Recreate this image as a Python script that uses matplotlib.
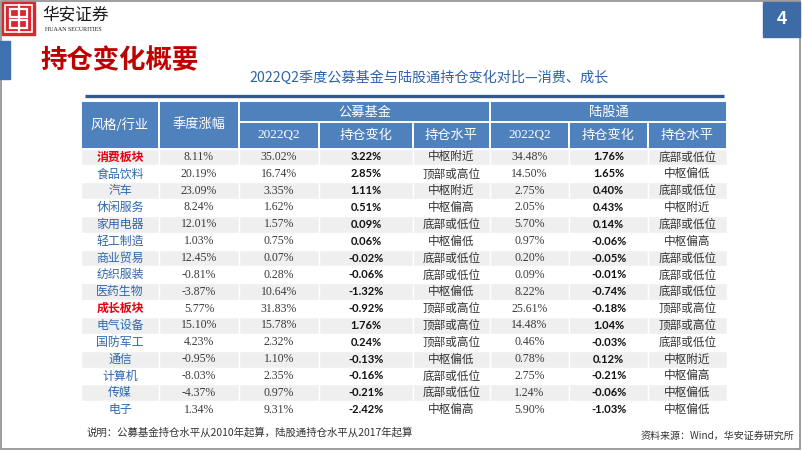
# -*- coding: utf-8 -*-
"""
Holdings change overview slide, public funds versus northbound connect, drawn as a table
"""

import matplotlib

matplotlib.use("Agg")  # Render without a display
import matplotlib.pyplot as plt
from matplotlib.patches import Rectangle

CJK = ["Noto Sans CJK SC", "DejaVu Sans"]
SERIF = ["Liberation Serif", "DejaVu Serif"]
BOLD_NUM = ["Lato", "DejaVu Sans"]

# Table data
industries = ["消费板块", "食品饮料", "汽车", "休闲服务", "家用电器", "轻工制造", "商业贸易", "纺织服装",
              "医药生物", "成长板块", "电气设备", "国防军工", "通信", "计算机", "传媒", "电子"]
sector_rows = ["消费板块", "成长板块"]
quarter_return = [8.11, 20.19, 23.09, 8.24, 12.01, 1.03, 12.45, -0.81, -3.87, 5.77, 15.10, 4.23, -0.95, -8.03, -4.37, 1.34]
fund_weight = [35.02, 16.74, 3.35, 1.62, 1.57, 0.75, 0.07, 0.28, 10.64, 31.83, 15.78, 2.32, 1.10, 2.35, 0.97, 9.31]
fund_change = [3.22, 2.85, 1.11, 0.51, 0.09, 0.06, -0.02, -0.06, -1.32, -0.92, 1.76, 0.24, -0.13, -0.16, -0.21, -2.42]
fund_level = ["中枢附近", "顶部或高位", "中枢附近", "中枢偏高", "底部或低位", "中枢偏低", "底部或低位", "底部或低位",
              "中枢偏低", "顶部或高位", "顶部或高位", "顶部或高位", "中枢偏低", "底部或低位", "底部或低位", "中枢偏高"]
hk_weight = [34.48, 14.50, 2.75, 2.05, 5.70, 0.97, 0.20, 0.09, 8.22, 25.61, 14.48, 0.46, 0.78, 2.75, 1.24, 5.90]
hk_change = [1.76, 1.65, 0.40, 0.43, 0.14, -0.06, -0.05, -0.01, -0.74, -0.18, 1.04, -0.03, 0.12, -0.21, -0.06, -1.03]
hk_level = ["底部或低位", "中枢偏低", "底部或低位", "中枢附近", "底部或低位", "中枢偏高", "底部或低位", "底部或低位",
            "底部或低位", "顶部或高位", "顶部或高位", "底部或低位", "中枢附近", "中枢偏高", "中枢偏低", "中枢偏低"]

top_headers = ["风格/行业", "季度涨幅"]
group_headers = ["公募基金", "陆股通"]
sub_headers = ["2022Q2", "持仓变化", "持仓水平"]

title = "持仓变化概要"
subtitle = "2022Q2季度公募基金与陆股通持仓变化对比—消费、成长"
note = "说明：公募基金持仓水平从2010年起算，陆股通持仓水平从2017年起算"
source = "资料来源：Wind，华安证券研究所"
page_no = "4"

# Layout in slide pixels
COL_EDGES = [81, 159, 239, 319, 413, 490, 569, 648, 727]
HEAD_TOP, HEAD_MID, HEAD_BOTTOM = 101, 122, 148.5
ROW_H = 16.85
HEAD_BLUE = "#4f81bd"
ROW_GRAY = "#efefef"
TEXT_BLUE = "#2f67ad"
TEXT_RED = "#e60012"


def pct(v):
    return f"{v:.2f}%"


def mid(c):
    return (COL_EDGES[c] + COL_EDGES[c + 1]) / 2


fig = plt.figure(figsize=(8.02, 4.51), dpi=100)
ax = fig.add_axes([0, 0, 1, 1])
ax.set_xlim(0, 802)
ax.set_ylim(451, 0)
ax.axis("off")

# slide frame
ax.add_patch(Rectangle((0.8, 0.8), 799.5, 448.5, fill=False, edgecolor="#8c8c8c", lw=1.2))

# logo
ax.add_patch(Rectangle((1.5, 1.5), 33, 33, color="#d7282f"))
ax.add_patch(Rectangle((4.5, 4.5), 27, 27, fill=False, edgecolor="white", lw=1.2))
ax.add_patch(Rectangle((10, 9), 17, 8, fill=False, edgecolor="white", lw=1.6))
ax.add_patch(Rectangle((10, 20), 17, 8, fill=False, edgecolor="white", lw=1.6))
ax.plot([18.5, 18.5], [4.5, 31.5], color="white", lw=1.6)
ax.text(42, 15, "华安证券", family=CJK, fontsize=12, color="#1a1a1a", va="center", ha="left")
ax.text(45, 29.5, "HUAAN SECURITIES", family=SERIF, fontsize=4.3, color="#1a1a1a", va="center", ha="left")

# page number
ax.add_patch(Rectangle((763, 2), 37, 35, color="#3d6ba6"))
ax.text(781.5, 20, page_no, family=["Liberation Sans"], fontsize=13, fontweight="bold", color="white",
        ha="center", va="center")

# title block
ax.add_patch(Rectangle((0, 41), 10, 38, color="#3f70b0"))
ax.text(40, 61, title, family=CJK, fontsize=19, fontweight="bold", color="#c00000", ha="left", va="center")
ax.text(429, 78, subtitle, family=CJK, fontsize=10.2, color="#3062a6", ha="center", va="center")
ax.plot([85, 724], [95.8, 95.8], color="#2e5a94", lw=2.4, solid_capstyle="butt")

# header cells
edge = dict(edgecolor="white", lw=1.4)
for i, label in enumerate(top_headers):
    x0, x1 = COL_EDGES[i], COL_EDGES[i + 1]
    ax.add_patch(Rectangle((x0, HEAD_TOP), x1 - x0, HEAD_BOTTOM - HEAD_TOP, facecolor=HEAD_BLUE, **edge))
    ax.text(mid(i), (HEAD_TOP + HEAD_BOTTOM) / 2, label, family=CJK, fontsize=9.5, color="white",
            ha="center", va="center")
for g, label in enumerate(group_headers):
    x0, x1 = COL_EDGES[2 + 3 * g], COL_EDGES[5 + 3 * g]
    ax.add_patch(Rectangle((x0, HEAD_TOP), x1 - x0, HEAD_MID - HEAD_TOP, facecolor=HEAD_BLUE, **edge))
    ax.text((x0 + x1) / 2, (HEAD_TOP + HEAD_MID) / 2 + 0.5, label, family=CJK, fontsize=9.5, color="white",
            ha="center", va="center")
    for k, sub in enumerate(sub_headers):
        c = 2 + 3 * g + k
        x0, x1 = COL_EDGES[c], COL_EDGES[c + 1]
        ax.add_patch(Rectangle((x0, HEAD_MID), x1 - x0, HEAD_BOTTOM - HEAD_MID, facecolor=HEAD_BLUE, **edge))
        fam = SERIF if sub.startswith("2022") else CJK
        ax.text(mid(c), (HEAD_MID + HEAD_BOTTOM) / 2, sub, family=fam, fontsize=9.5, color="white",
                ha="center", va="center")

# body rows
for r, name in enumerate(industries):
    y0 = HEAD_BOTTOM + r * ROW_H
    yc = y0 + ROW_H / 2
    if r % 2 == 0:
        for c in range(len(COL_EDGES) - 1):
            x0, x1 = COL_EDGES[c], COL_EDGES[c + 1]
            ax.add_patch(Rectangle((x0, y0), x1 - x0, ROW_H, facecolor=ROW_GRAY, edgecolor="white", lw=1.0))
    is_sector = name in sector_rows
    ax.text(mid(0), yc, name, family=CJK, fontsize=8.6, color=TEXT_RED if is_sector else TEXT_BLUE,
            fontweight="bold" if is_sector else "normal", ha="center", va="center")
    numbers = [
        (1, pct(quarter_return[r]), SERIF, "normal", "#3a3a3a"),
        (2, pct(fund_weight[r]), SERIF, "normal", "#3a3a3a"),
        (3, pct(fund_change[r]), BOLD_NUM, "bold", "#111111"),
        (5, pct(hk_weight[r]), SERIF, "normal", "#3a3a3a"),
        (6, pct(hk_change[r]), BOLD_NUM, "bold", "#111111"),
    ]
    for c, txt, fam, weight, color in numbers:
        ax.text(mid(c), yc, txt, family=fam, fontsize=8.5 if fam is SERIF else 8, fontweight=weight,
                color=color, ha="center", va="center")
    for c, txt in ((4, fund_level[r]), (7, hk_level[r])):
        ax.text(mid(c), yc, txt, family=CJK, fontsize=8.4, color="#333333", ha="center", va="center")

# footer
ax.text(87, 432, note, family=CJK, fontsize=7.5, color="#333333", ha="left", va="center")
ax.text(794, 436, source, family=CJK, fontsize=7.2, color="#333333", ha="right", va="center")

fig.savefig("out.png", dpi=100)
plt.close(fig)
